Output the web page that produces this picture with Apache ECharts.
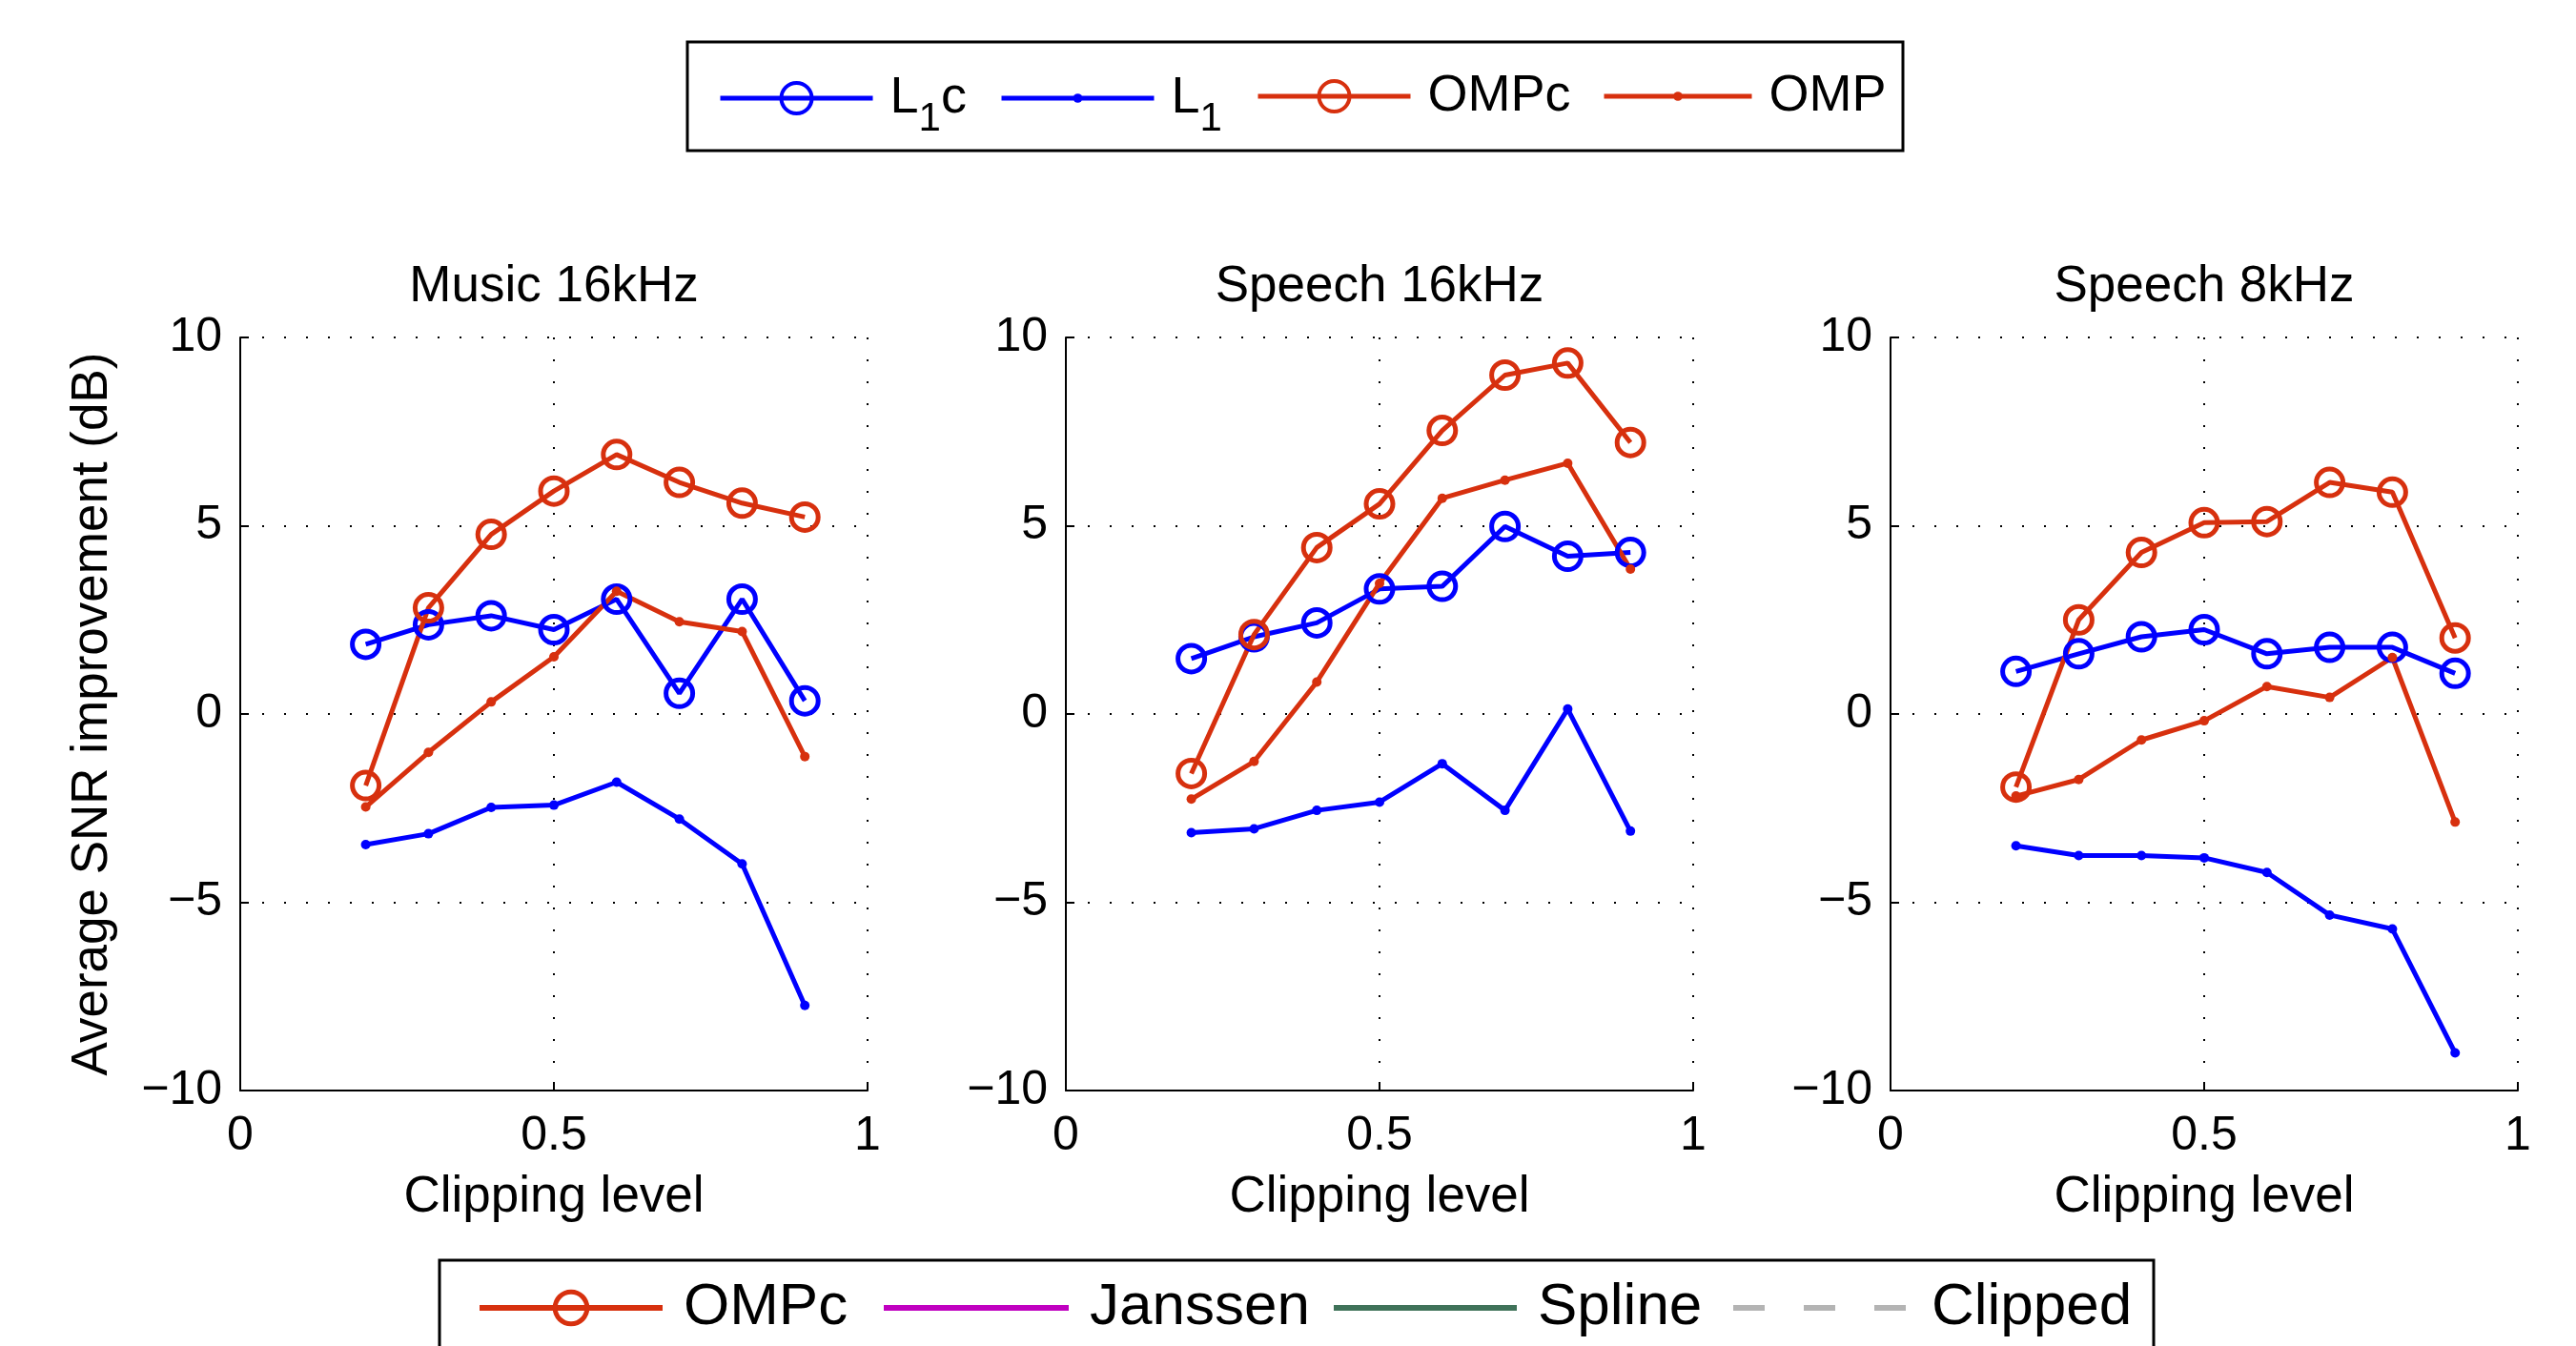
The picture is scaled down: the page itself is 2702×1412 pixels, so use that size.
<!DOCTYPE html>
<html>
<head>
<meta charset="utf-8">
<script src="https://cdn.jsdelivr.net/npm/echarts@6/dist/echarts.min.js"></script>
<style>
html,body{margin:0;padding:0;background:#fff}
#main{width:2702px;height:1412px}
</style>
</head>
<body>
<div id="main"></div>
<script>
// x values (clipping level)
var clipLevels = [0.2, 0.3, 0.4, 0.5, 0.6, 0.7, 0.8, 0.9]
var panelTitles = ['Music 16kHz', 'Speech 16kHz', 'Speech 8kHz']

// Music 16kHz
var musicL1c  = [1.85, 2.37, 2.61, 2.24, 3.05, 0.55, 3.05, 0.35]
var musicL1   = [-3.47, -3.18, -2.48, -2.42, -1.81, -2.79, -3.98, -7.74]
var musicOMPc = [-1.90, 2.82, 4.77, 5.92, 6.89, 6.15, 5.60, 5.23]
var musicOMP  = [-2.47, -1.02, 0.32, 1.52, 3.26, 2.45, 2.19, -1.13]
// Speech 16kHz
var sp16L1c  = [1.47, 2.05, 2.42, 3.32, 3.39, 4.98, 4.19, 4.29]
var sp16L1   = [-3.15, -3.05, -2.56, -2.34, -1.32, -2.56, 0.13, -3.11]
var sp16OMPc = [-1.58, 2.11, 4.42, 5.58, 7.53, 9.00, 9.32, 7.21]
var sp16OMP  = [-2.26, -1.26, 0.85, 3.47, 5.73, 6.21, 6.66, 3.85]
// Speech 8kHz
var sp8L1c  = [1.13, 1.60, 2.05, 2.24, 1.60, 1.77, 1.77, 1.08]
var sp8L1   = [-3.50, -3.76, -3.76, -3.82, -4.21, -5.34, -5.71, -9.00]
var sp8OMPc = [-1.94, 2.50, 4.29, 5.08, 5.11, 6.15, 5.89, 2.02]
var sp8OMP  = [-2.18, -1.74, -0.69, -0.18, 0.73, 0.44, 1.50, -2.87]

var panelData = [
    [musicL1c, musicL1, musicOMPc, musicOMP],
    [sp16L1c, sp16L1, sp16OMPc, sp16OMP],
    [sp8L1c, sp8L1, sp8OMPc, sp8OMP]
]
var seriesNames = ['L1c', 'L1', 'OMPc', 'OMP']

var FONT = "'Liberation Sans', Arial, Helvetica, sans-serif"
var BLUE = '#0000ff'
var RED = '#d7300e'
var MAGENTA = '#c000c0'
var GREEN = '#3f7259'
var GREY = '#b4b4b4'
var CLEAR = 'rgba(255,255,255,0)'

var gridLefts = [252, 1118, 1983]
var GRID_TOP = 354, GRID_W = 658, GRID_H = 790

function pairs(arr)
{
    return clipLevels.map(function(x, i){ return [x, arr[i]] })
}

function minusSign(v)
{
    return String(v).replace('-', '\u2212')
}

var grids = [], xAxes = [], yAxes = [], titles = [], series = []

gridLefts.forEach(function(left, gi)
{
    grids.push({ left: left, top: GRID_TOP, width: GRID_W, height: GRID_H, containLabel: false })
    var axisCommon = {
        axisLine: { onZero: false, lineStyle: { color: '#000', width: 2 } },
        axisTick: { show: true, inside: true, length: 9, lineStyle: { color: '#000', width: 2 } },
        splitLine: { show: true, lineStyle: { color: '#000', width: 2, type: [2, 21] } },
        axisLabel: { color: '#000', fontSize: 50, fontFamily: FONT, formatter: minusSign }
    }
    xAxes.push(Object.assign({}, axisCommon, {
        gridIndex: gi, type: 'value', min: 0, max: 1, interval: 0.5,
        axisLabel: Object.assign({}, axisCommon.axisLabel, { margin: 23 }),
        name: 'Clipping level', nameLocation: 'middle', nameGap: 86,
        nameTextStyle: { color: '#000', fontSize: 53, fontFamily: FONT }
    }))
    var y = Object.assign({}, axisCommon, {
        gridIndex: gi, type: 'value', min: -10, max: 10, interval: 5,
        axisLabel: Object.assign({}, axisCommon.axisLabel, { margin: 19, padding: [5, 0, 0, 0] })
    })
    if(gi == 0)
    {
        y.name = 'Average SNR improvement (dB)'
        y.nameLocation = 'middle'
        y.nameRotate = 90
        y.nameGap = 128
        y.nameTextStyle = { color: '#000', fontSize: 53, fontFamily: FONT }
    }
    yAxes.push(y)
    titles.push({
        text: panelTitles[gi], left: left + GRID_W / 2, top: 275, textAlign: 'center', padding: 0,
        textStyle: { color: '#000', fontSize: 53, fontWeight: 'normal', fontFamily: FONT }
    })

    panelData[gi].forEach(function(arr, si)
    {
        var color = si < 2 ? BLUE : RED
        var ring = (si % 2 == 0)
        series.push({
            name: seriesNames[si], type: 'line', xAxisIndex: gi, yAxisIndex: gi,
            data: pairs(arr),
            symbol: 'circle', symbolSize: ring ? 28 : 10, showAllSymbol: true,
            lineStyle: { color: color, width: 5 },
            itemStyle: ring ? { color: CLEAR, borderColor: color, borderWidth: 5 } : { color: color },
            emphasis: { disabled: true }, silent: true, animation: false
        })
    })
})

// series that only show up in the lower legend
series.push({ name: 'Janssen', type: 'line', xAxisIndex: 0, yAxisIndex: 0, data: [], symbol: 'none',
    lineStyle: { color: MAGENTA, width: 6 }, itemStyle: { color: MAGENTA }, animation: false })
series.push({ name: 'Spline', type: 'line', xAxisIndex: 0, yAxisIndex: 0, data: [], symbol: 'none',
    lineStyle: { color: GREEN, width: 6 }, itemStyle: { color: GREEN }, animation: false })
series.push({ name: 'Clipped', type: 'line', xAxisIndex: 0, yAxisIndex: 0, data: [], symbol: 'none',
    lineStyle: { color: GREY, width: 6, type: [33, 41] }, itemStyle: { color: GREY }, animation: false })

function legendText(size, lh, pad)
{
    return {
        color: '#000', fontSize: size, lineHeight: lh, fontFamily: FONT, padding: [0, 0, 0, pad],
        rich: {
            a: { fontSize: size, lineHeight: lh, fontFamily: FONT, color: '#000' },
            s: { fontSize: 42, lineHeight: 16, padding: [44, 0, 0, 0], fontFamily: FONT, color: '#000' }
        }
    }
}

function legendItem(name, left, top, itemWidth, itemHeight, dataItem, fmt, tStyle)
{
    dataItem.name = name
    return {
        left: left, top: top, padding: 0, selectedMode: false,
        itemWidth: itemWidth, itemHeight: itemHeight,
        data: [dataItem],
        formatter: fmt,
        textStyle: tStyle
    }
}

var topText = legendText(54, 60, 13)
var botText = legendText(62, 70, 17)
var legends = [
    legendItem('L1c', 753, 60, 160, 40,
        { lineStyle: { color: BLUE, width: 5 }, itemStyle: { color: CLEAR, borderColor: BLUE, borderWidth: 4 } },
        function(){ return '{a|L}{s|1}{a|c}' }, topText),
    legendItem('L1', 1048, 60, 160, 12,
        { lineStyle: { color: BLUE, width: 5 }, itemStyle: { color: BLUE, borderWidth: 0 } },
        function(){ return '{a|L}{s|1}' }, topText),
    legendItem('OMPc', 1317, 71, 160, 40,
        { lineStyle: { color: RED, width: 5 }, itemStyle: { color: CLEAR, borderColor: RED, borderWidth: 4 } },
        '{name}', topText),
    legendItem('OMP', 1680, 71, 155, 12,
        { lineStyle: { color: RED, width: 5 }, itemStyle: { color: RED, borderWidth: 0 } },
        '{name}', topText),

    legendItem('OMPc', 500, 1337, 192, 42,
        { lineStyle: { color: RED, width: 6 }, itemStyle: { color: CLEAR, borderColor: RED, borderWidth: 5 } },
        '{name}', botText),
    legendItem('Janssen', 924, 1337, 194, 2,
        { lineStyle: { color: MAGENTA, width: 6 }, itemStyle: { color: MAGENTA, opacity: 0 } },
        '{name}', botText),
    legendItem('Spline', 1396, 1337, 192, 2,
        { lineStyle: { color: GREEN, width: 6 }, itemStyle: { color: GREEN, opacity: 0 } },
        '{name}', botText),
    legendItem('Clipped', 1815, 1337, 186, 2,
        { lineStyle: { color: GREY, width: 6, type: [33, 41] }, itemStyle: { color: GREY, opacity: 0 } },
        '{name}', botText)
]

var option = {
    backgroundColor: '#fff',
    animation: false,
    title: titles,
    grid: grids,
    xAxis: xAxes,
    yAxis: yAxes,
    legend: legends,
    graphic: [
        { type: 'rect', shape: { x: 721, y: 44, width: 1275, height: 114 },
          style: { fill: 'none', stroke: '#000', lineWidth: 3 }, silent: true },
        { type: 'rect', shape: { x: 461, y: 1322, width: 1798, height: 140 },
          style: { fill: 'none', stroke: '#000', lineWidth: 3 }, silent: true }
    ],
    series: series
}

var myChart = echarts.init(document.getElementById('main'))
myChart.setOption(option)
</script>
</body>
</html>
